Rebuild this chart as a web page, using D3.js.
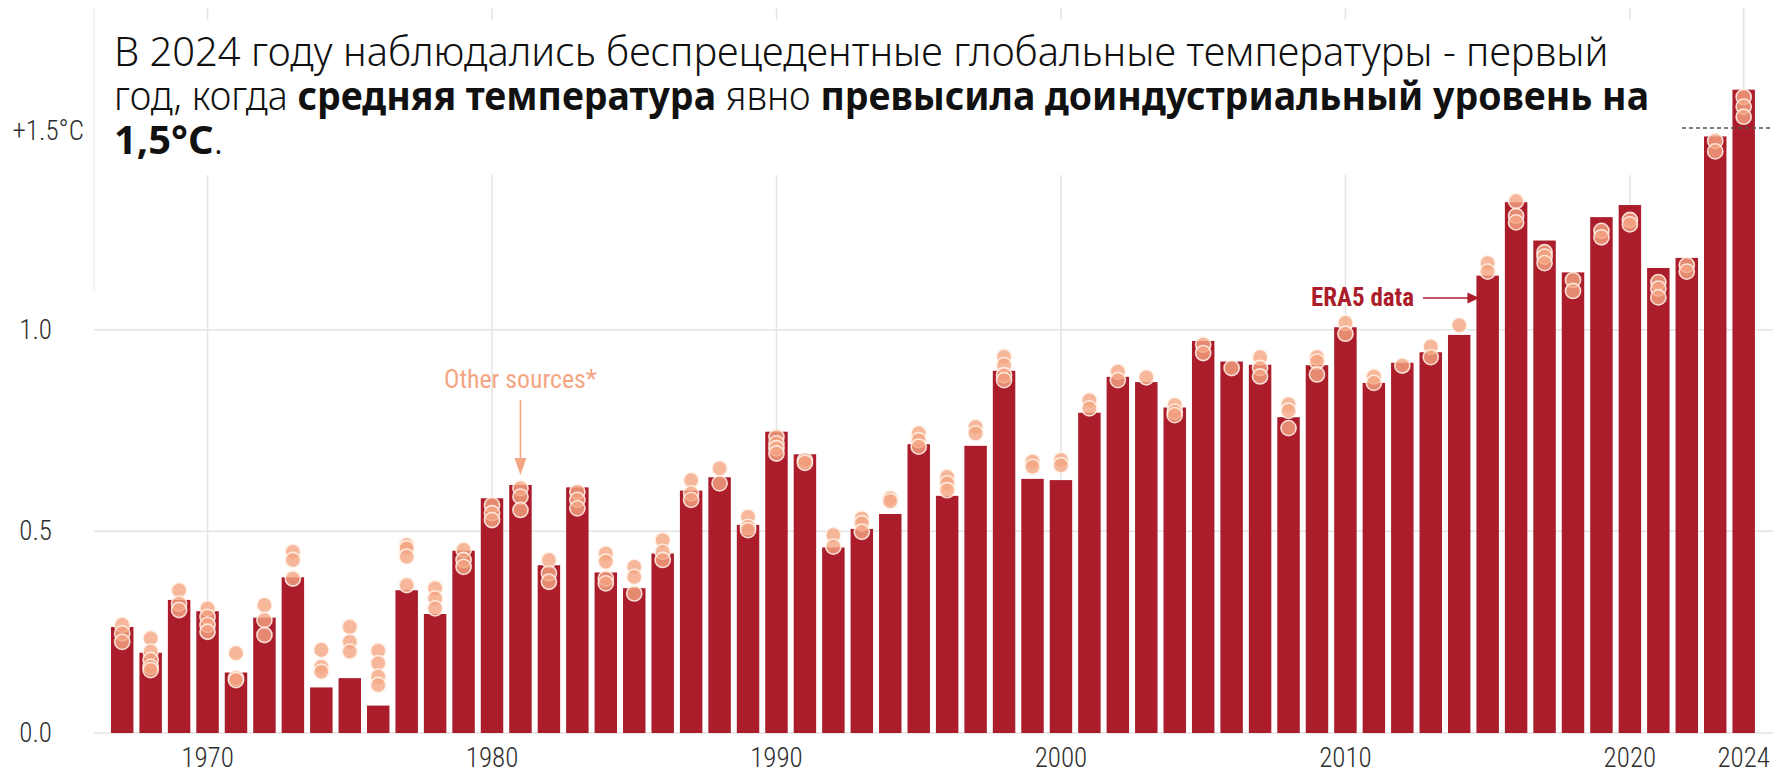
<!DOCTYPE html>
<html>
<head>
<meta charset="utf-8">
<script src="https://cdn.jsdelivr.net/npm/d3@7"></script>
<style>
  html, body { margin: 0; padding: 0; background: #ffffff; }
  svg { display: block; }
</style>
</head>
<body>
<svg id="chart" width="1783" height="772"></svg>
<script>
// ---------------- DATA ----------------
const years = d3.range(1967, 2025);
const era5 = [
  0.263, 0.199, 0.330, 0.302, 0.150, 0.286, 0.386, 0.113, 0.136, 0.068,
  0.354, 0.295, 0.452, 0.582, 0.615, 0.416, 0.609, 0.398, 0.359, 0.445,
  0.601, 0.634, 0.516, 0.747, 0.691, 0.460, 0.506, 0.543, 0.716, 0.588,
  0.712, 0.898, 0.630, 0.627, 0.794, 0.883, 0.870, 0.807, 0.972, 0.921,
  0.913, 0.783, 0.912, 1.006, 0.868, 0.918, 0.944, 0.987, 1.134, 1.316,
  1.221, 1.142, 1.279, 1.309, 1.153, 1.178, 1.479, 1.595
];
const otherSources = [
  [0.268, 0.247, 0.226], [0.235, 0.202, 0.181, 0.164, 0.156], [0.354, 0.321, 0.305],
  [0.309, 0.288, 0.268, 0.251], [0.198, 0.136, 0.131], [0.317, 0.280, 0.243],
  [0.449, 0.429, 0.383], [0.206, 0.164, 0.152], [0.263, 0.226, 0.202],
  [0.204, 0.173, 0.140, 0.119], [0.466, 0.458, 0.437, 0.367], [0.359, 0.334, 0.309],
  [0.454, 0.429, 0.412], [0.565, 0.545, 0.528], [0.607, 0.586, 0.553],
  [0.429, 0.396, 0.375], [0.598, 0.578, 0.557], [0.445, 0.425, 0.383, 0.371],
  [0.412, 0.387, 0.346], [0.478, 0.449, 0.429], [0.627, 0.594, 0.578],
  [0.656, 0.619], [0.536, 0.511, 0.503], [0.734, 0.718, 0.706, 0.693],
  [0.676, 0.670], [0.491, 0.462], [0.532, 0.520, 0.499],
  [0.582, 0.575], [0.743, 0.726, 0.710], [0.635, 0.619, 0.602],
  [0.759, 0.743], [0.933, 0.912, 0.887, 0.875], [0.673, 0.660],
  [0.677, 0.664], [0.825, 0.805], [0.896, 0.875],
  [0.882], [0.813, 0.797, 0.788], [0.963, 0.942],
  [0.905], [0.932, 0.905, 0.884], [0.815, 0.799, 0.756],
  [0.932, 0.921, 0.889], [1.017, 0.990], [0.884, 0.868],
  [0.911], [0.958, 0.932], [1.011],
  [1.165, 1.144], [1.319, 1.282, 1.266], [1.192, 1.181, 1.165],
  [1.123, 1.096], [1.245, 1.229], [1.272, 1.261],
  [1.118, 1.102, 1.080], [1.160, 1.144], [1.468, 1.442],
  [1.577, 1.553, 1.528]
];
const xTickYears = [1970, 1980, 1990, 2000, 2010, 2020, 2024];
const yTickValues = [0, 0.5, 1.0];
const thresholdValue = 1.5;
const thresholdLabel = "+1.5°C";
const titleLine1 = "В 2024 году наблюдались беспрецедентные глобальные температуры - первый";
const titleLine2 = [["год, когда ", false], ["средняя температура", true], [" явно ", false], ["превысила доиндустриальный уровень на", true]];
const titleLine3 = [["1,5°C", true], [".", false]];
const annOther = { text: "Other sources*", year: 1981 };
const annEra = { text: "ERA5 data", year: 2015 };

// ---------------- STYLE ----------------
const barColor = "#ab1d2b";
const dotColor = "#f4a582";
const gridColor = "#e4e4e4";
const axisFont = "'Roboto Condensed', Roboto, sans-serif";
const titleFont = "'Noto Sans', 'Open Sans', sans-serif";
const axisSize = 27;
const axisColor = "#2e2e2e";

const svg = d3.select("#chart");

const x = d3.scaleBand()
  .domain(years)
  .range([107.98, 1757.9])
  .paddingInner(0.21)
  .paddingOuter(0.105);
const y = d3.scaleLinear().domain([0, 1.5]).range([733, 128]);
const cx = yr => x(yr) + x.bandwidth() / 2;

const gridLeft = 94, gridRight = 1773;

// horizontal gridlines
svg.append("g").selectAll("line").data(yTickValues).join("line")
  .attr("x1", gridLeft).attr("x2", gridRight)
  .attr("y1", d => y(d)).attr("y2", d => y(d))
  .attr("stroke", gridColor).attr("stroke-width", 1.5);

// vertical gridlines
svg.append("g").selectAll("line").data(xTickYears).join("line")
  .attr("x1", d => cx(d)).attr("x2", d => cx(d))
  .attr("y1", 8).attr("y2", y(0))
  .attr("stroke", gridColor).attr("stroke-width", 1.5);

// left faint boundary line
svg.append("line")
  .attr("x1", gridLeft).attr("x2", gridLeft)
  .attr("y1", 8).attr("y2", 290)
  .attr("stroke", "#ececec").attr("stroke-width", 1.2);

// title box (covers gridlines)
svg.append("rect")
  .attr("x", gridLeft + 1.5).attr("y", 20)
  .attr("width", 1680 - gridLeft).attr("height", 155)
  .attr("fill", "#ffffff");

// bars
svg.append("g").selectAll("rect").data(years).join("rect")
  .attr("x", d => x(d))
  .attr("y", (d, i) => y(era5[i]))
  .attr("width", x.bandwidth())
  .attr("height", (d, i) => y(0) - y(era5[i]))
  .attr("fill", barColor);

// dots for other sources
const dotData = [];
years.forEach((yr, i) => otherSources[i].forEach(v => dotData.push({ yr, v })));
svg.append("g").selectAll("circle").data(dotData).join("circle")
  .attr("cx", d => cx(d.yr))
  .attr("cy", d => y(d.v))
  .attr("r", 7.6)
  .attr("fill", dotColor)
  .attr("fill-opacity", 0.8)
  .attr("stroke", "#fff3ea")
  .attr("stroke-opacity", 0.85)
  .attr("stroke-width", 1.6);

// dashed 1.5 threshold line
svg.append("line")
  .attr("x1", 1682).attr("x2", 1772)
  .attr("y1", y(thresholdValue)).attr("y2", y(thresholdValue))
  .attr("stroke", "#555").attr("stroke-width", 1.5)
  .attr("stroke-dasharray", "4,3");

svg.append("text")
  .attr("x", 84).attr("y", y(thresholdValue) + 12)
  .attr("text-anchor", "end")
  .attr("font-family", axisFont).attr("font-weight", 300)
  .attr("font-size", axisSize).attr("fill", axisColor)
  .text(thresholdLabel);

// y axis
const yAxis = svg.append("g")
  .attr("transform", "translate(52,0)")
  .call(d3.axisLeft(y).tickValues(yTickValues).tickFormat(d3.format(".1f")).tickSize(0).tickPadding(0));
yAxis.select(".domain").remove();
yAxis.selectAll("text")
  .attr("font-family", axisFont).attr("font-weight", 300)
  .attr("font-size", axisSize).attr("fill", axisColor);

// x axis
const xAxis = svg.append("g")
  .attr("transform", `translate(0,${y(0)})`)
  .call(d3.axisBottom(x).tickValues(xTickYears).tickSize(0));
xAxis.select(".domain").remove();
xAxis.selectAll("text")
  .attr("y", 34).attr("dy", 0)
  .attr("font-family", axisFont).attr("font-weight", 300)
  .attr("font-size", axisSize).attr("fill", axisColor);

// annotation: Other sources
const oX = cx(annOther.year);
svg.append("text")
  .attr("x", oX).attr("y", 388)
  .attr("text-anchor", "middle")
  .attr("font-family", axisFont).attr("font-size", 26)
  .attr("fill", "#f3a683")
  .attr("textLength", 153).attr("lengthAdjust", "spacingAndGlyphs")
  .text(annOther.text);
svg.append("line")
  .attr("x1", oX).attr("x2", oX).attr("y1", 400).attr("y2", 462)
  .attr("stroke", "#f3a683").attr("stroke-width", 1.6);
svg.append("path")
  .attr("d", `M${oX - 6},${458} L${oX + 6},${458} L${oX},${475} Z`)
  .attr("fill", "#f3a683");

// annotation: ERA5 data
const eY = 298;
const eTip = x(annEra.year) + 3;
svg.append("text")
  .attr("x", 1311).attr("y", 306)
  .attr("font-family", axisFont).attr("font-weight", 700).attr("font-size", 25)
  .attr("fill", barColor)
  .attr("textLength", 103).attr("lengthAdjust", "spacingAndGlyphs")
  .text(annEra.text);
svg.append("line")
  .attr("x1", 1423).attr("x2", eTip - 8).attr("y1", eY).attr("y2", eY)
  .attr("stroke", barColor).attr("stroke-width", 1.6);
svg.append("path")
  .attr("d", `M${eTip - 12},${eY - 5.5} L${eTip},${eY} L${eTip - 12},${eY + 5.5} Z`)
  .attr("fill", barColor);

// title
const title = svg.append("g");
const t1 = title.append("text")
  .attr("x", 114).attr("y", 66)
  .attr("font-family", titleFont).attr("font-weight", 300).attr("font-size", 34).attr("fill", "#111")
  .text(titleLine1);
const w1 = t1.node().getComputedTextLength();
const fs = 34 * 1495 / w1;
t1.attr("font-size", fs);
function richLine(parts, yy, targetW) {
  const t = title.append("text").attr("x", 114).attr("y", yy)
    .attr("font-family", titleFont).attr("font-size", fs).attr("fill", "#111");
  parts.forEach(([s, b]) => t.append("tspan").attr("font-weight", b ? 700 : 300).text(s));
  if (targetW) {
    const w = t.node().getComputedTextLength();
    if (w > targetW) t.attr("textLength", targetW).attr("lengthAdjust", "spacingAndGlyphs");
  }
  return t;
}
richLine(titleLine2, 110, 1535);
richLine(titleLine3, 154, 0);
</script>
</body>
</html>
